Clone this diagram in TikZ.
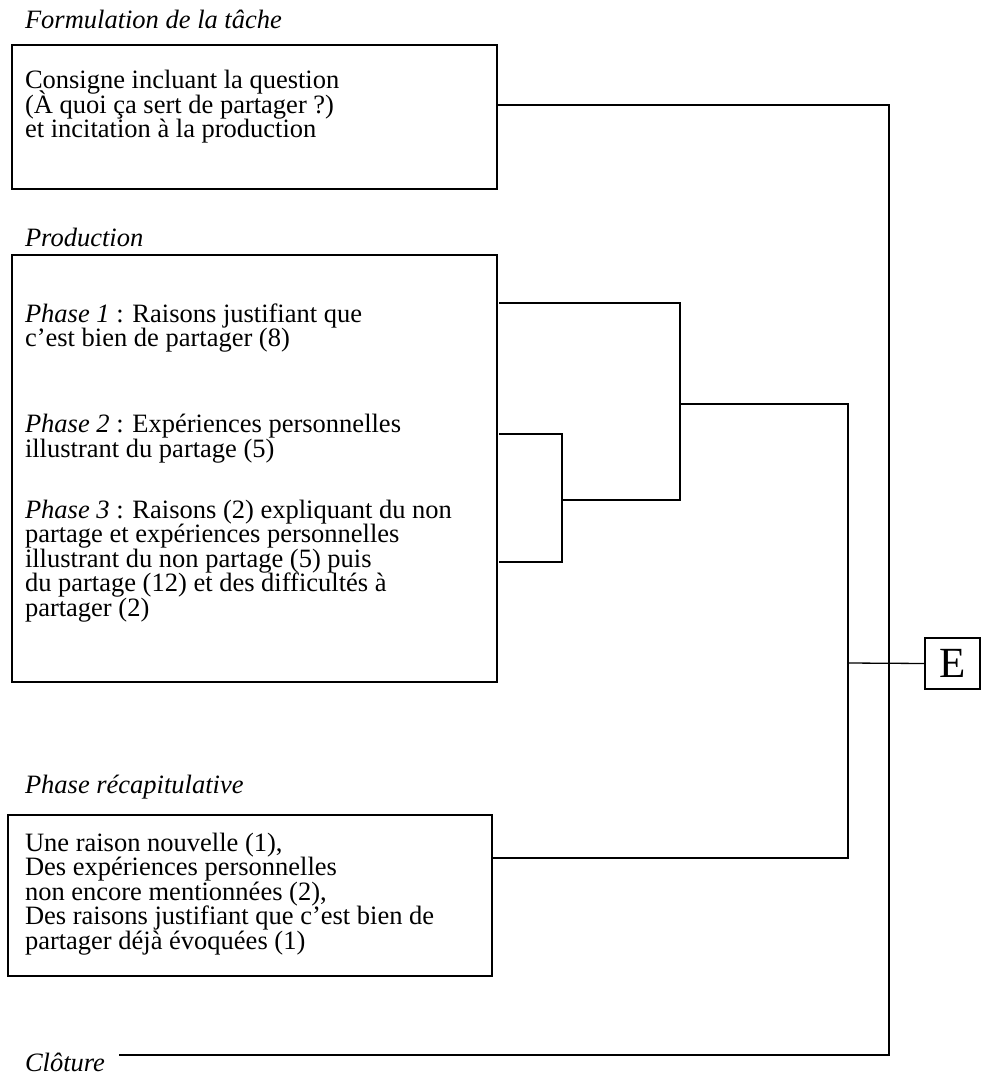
\documentclass[tikz,border=0pt]{standalone}
\usepackage{fontspec}
\setmainfont{Liberation Serif}
\newcommand\mytightlines{\lineskiplimit=-50pt\relax\lineskip=0pt\relax}
\begin{document}
\begin{tikzpicture}[x=1pt,y=-1pt,
  every node/.style={inner sep=0pt,outer sep=0pt},
  frame/.style={draw,line width=1.4pt,anchor=north west},
  conn/.style={line width=1.3pt,line cap=rect},
  lab/.style={anchor=base west,font=\fontsize{26.5}{24.5}\selectfont\itshape},
  txt/.style={anchor=base west,align=left,font=\fontsize{26.5}{24.5}\selectfont\mytightlines}]
\useasboundingbox (0,0) rectangle (982,1075);
% boxes
\node[frame,minimum width=485pt,minimum height=144pt] (form) at (12,45) {};
\node[frame,minimum width=485pt,minimum height=427pt] (prod) at (12,255) {};
\node[frame,minimum width=484pt,minimum height=161pt] (recap) at (8,815) {};
\node[frame,minimum width=55pt,minimum height=51pt,font=\fontsize{43}{43}\selectfont] (E) at (925,638) {E};
% labels
\node[lab] (lform) at (25,29) {Formulation de la tâche};
\node[lab] (lprod) at (25,247) {Production};
\node[lab] (lrecap) at (25,793) {Phase récapitulative};
\node[lab] (lclot) at (25,1071) {Clôture};
% texts (anchored at the baseline of their last line)
\node[txt] (tform) at (25,138) {Consigne incluant la question\\(À quoi ça sert de partager ?)\\et incitation à la production};
\node[txt] (tp1) at (25,346.5) {\textit{Phase 1} : Raisons justifiant que\\c’est bien de partager (8)};
\node[txt] (tp2) at (25,457) {\textit{Phase 2} : Expériences personnelles\\illustrant du partage (5)};
\node[txt] (tp3) at (25,616) {\textit{Phase 3} : Raisons (2) expliquant du non\\partage et expériences personnelles\\illustrant du non partage (5) puis\\du partage (12) et des difficultés à\\partager (2)};
\node[txt] (trecap) at (25,949) {Une raison nouvelle (1),\\Des expériences personnelles\\non encore mentionnées (2),\\Des raisons justifiant que c’est bien de\\partager déjà évoquées (1)};
% connector coordinates
\coordinate (p1) at (500,303);
\coordinate (p2) at (500,434);
\coordinate (p3) at (500,562);
\coordinate (j23) at (562,500);
\coordinate (j123) at (680,404);
\coordinate (jall) at (848,663);
\coordinate (cl) at (120,1055);
% connectors
\draw[conn] (p2) -- (562,434) -- (562,562) -- (p3);
\draw[conn] (j23) -- (680,500);
\draw[conn] (p1) -- (680,303) -- (680,500);
\draw[conn] (j123) -- (848,404) -- (848,858) -- ([yshift=37.5pt]recap.east);
\draw[conn] (jall) -- (E.west);
\draw[conn] ([yshift=12pt]form.east) -- (889,105) -- (889,1055) -- (cl);
\draw[line width=2.3pt] (185,1055) -- (245,1055);
\end{tikzpicture}
\end{document}
